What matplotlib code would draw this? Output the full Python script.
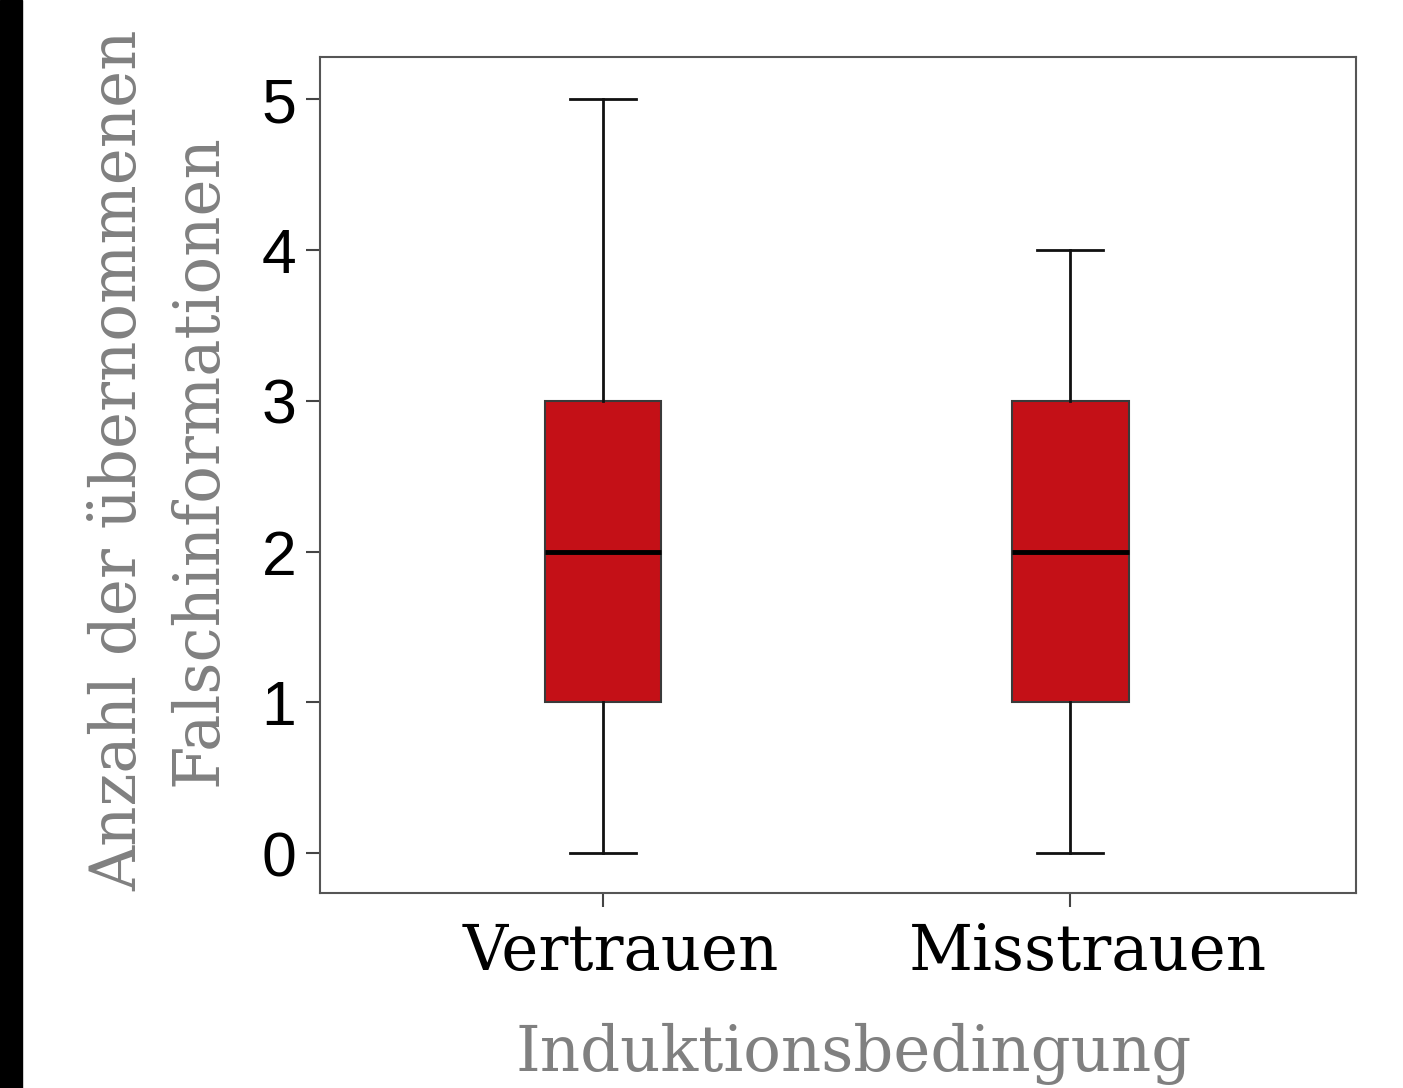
import matplotlib
matplotlib.use("Agg")
import matplotlib.pyplot as plt
import matplotlib.transforms as mtransforms
from matplotlib.patches import Rectangle

# values
groups = ["Vertrauen", "Misstrauen"]
q1 = [1, 1]
medians = [2, 2]
q3 = [3, 3]
whis_lo = [0, 0]
whis_hi = [5, 4]
yticks = [0, 1, 2, 3, 4, 5]

W, H = 1403, 1088
fig = plt.figure(figsize=(W / 100, H / 100), dpi=100)
fig.patches.append(Rectangle((0, 0), 22 / W, 1, transform=fig.transFigure,
                             color="black", zorder=0))

ax = fig.add_axes([320 / W, 1 - 893 / H, (1356 - 320) / W, (893 - 57) / H])

stats = []
for i, g in enumerate(groups):
    stats.append(dict(label=g, q1=q1[i], med=medians[i], q3=q3[i],
                      whislo=whis_lo[i], whishi=whis_hi[i], fliers=[]))

ax.bxp(stats, positions=[1, 2], widths=0.25, patch_artist=True,
       showfliers=False,
       boxprops=dict(facecolor="#c41017", edgecolor="#3a3a3a", linewidth=1.5),
       medianprops=dict(color="black", linewidth=3.5),
       whiskerprops=dict(color="#111111", linewidth=2),
       capprops=dict(color="#111111", linewidth=2),
       capwidths=0.14)

ax.set_xlim(0.394, 2.612)
ax.set_ylim(-0.265, 5.28)
ax.set_yticks(yticks)
ax.set_yticklabels([str(t) for t in yticks], fontsize=45,
                   family="Liberation Sans")
ax.set_xticks([1, 2])
ax.set_xticklabels(groups, fontsize=45, family="DejaVu Serif")
ax.tick_params(axis="both", length=10, width=1.5, color="#444444", pad=7)
ax.tick_params(axis="x", pad=11)

# category labels sit a little right of their ticks in the original
shift = mtransforms.ScaledTranslation(18 / 100, 0, fig.dpi_scale_trans)
for lbl in ax.get_xticklabels():
    lbl.set_transform(lbl.get_transform() + shift)

for s in ax.spines.values():
    s.set_color("#555555")
    s.set_linewidth(1.5)

ax.set_xlabel("Induktionsbedingung", fontsize=45, family="DejaVu Serif",
              color="#808080")
ax.xaxis.set_label_coords(0.515, -0.155)
ax.set_ylabel("Anzahl der übernommenen\nFalschinformationen", fontsize=45,
              family="DejaVu Serif", color="#808080", linespacing=1.4)
ax.yaxis.set_label_coords(-0.087, 0.518)

fig.savefig("out.png", dpi=100)
